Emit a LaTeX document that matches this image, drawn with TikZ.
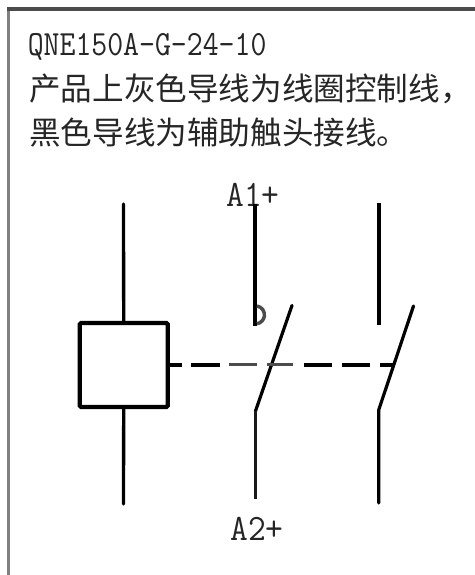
\documentclass[tikz,border=0pt]{standalone}
\usepackage{fontspec}
\newfontfamily\cjk{Noto Sans CJK SC}
\begin{document}
\begin{tikzpicture}[x=0.75pt,y=-0.75pt,
  wire/.style={line width=2.9pt,black},
  thinwire/.style={line width=2.5pt,black},
  slant/.style={line width=2.4pt,black,line cap=round,line join=round},
  dashblack/.style={line width=3pt,black},
  dashgray/.style={line width=2.2pt,black!70},
  latn/.style={inner sep=0pt,anchor=base west,text=black!85},
  han/.style={inner sep=0pt,anchor=base west,text=black!85}]
\useasboundingbox (0,0) rectangle (475,575);
\fill[white] (0,0) rectangle (475,575);
\newcommand{\txtsmall}[1]{\scalebox{1.03}[1.18]{\fontsize{22.5pt}{26pt}\ttfamily #1}}
\newcommand{\txtbig}[1]{\scalebox{1.15}[1.24]{\fontsize{22.5pt}{26pt}\ttfamily #1}}
\newcommand{\txthan}[1]{\fontsize{23.7pt}{28pt}\cjk #1}
\draw[line width=2.4pt,black!50] (8.3,575) -- (8.3,9);
\draw[line width=2.4pt,black!70] (7,9) -- (475,9);
\node[latn] (t1) at (27.5,55) {\txtsmall{QNE150A-G-24-10}};
\node[han] (t2) at (29,100) {\txthan{产品上灰色导线为线圈控制线，}};
\node[han] (t3) at (29,144) {\txthan{黑色导线为辅助触头接线。}};
\node[latn] (a1) at (226,206) {\txtbig{A1+}};
\node[latn] (a2) at (230,540) {\txtbig{A2+}};
\node[draw,line width=3.1pt,rounded corners=1pt,minimum width=66pt,minimum height=63pt,inner sep=0pt] (coil) at (123.7,365) {};
\coordinate (c1) at (123.5,204);
\coordinate (c2) at (123.5,504);
\draw[thinwire,line cap=round] (c1) -- (coil.north);
\draw[thinwire,line cap=round] (coil.south) -- (c2);
\coordinate (m1) at (255,204);
\coordinate (m2) at (255,325.5);
\coordinate (m3) at (292,305.5);
\coordinate (m4) at (255.5,411);
\coordinate (m5) at (255.5,499);
\draw[wire] (m1) -- (m2);
\draw[slant] (m3) -- (m4);
\draw[line width=2.4pt,black!90] (m4) -- (m5);
\draw[line width=2.6pt,black!70] (257,306) arc[start angle=-80,end angle=80,radius=9];
\coordinate (r1) at (379,203);
\coordinate (r2) at (379,325);
\coordinate (r3) at (413.5,306);
\coordinate (r4) at (378.7,410);
\coordinate (r5) at (378.7,503);
\draw[wire] (r1) -- (r2);
\draw[slant] (r3) -- (r4) -- (r5);
\coordinate (d1) at (182,365);
\coordinate (d2) at (191,365);
\coordinate (d3) at (220,365);
\coordinate (d4) at (229,364.5);
\coordinate (d5) at (257,364.5);
\coordinate (d6) at (267,364.5);
\coordinate (d7) at (293,364.5);
\coordinate (d8) at (304,365);
\coordinate (d9) at (332,365);
\coordinate (d10) at (342,365);
\coordinate (d11) at (370,365);
\coordinate (d12) at (380,365);
\coordinate (d13) at (395,365);
\draw[dashblack] (coil.east |- d1) -- (d1);
\draw[dashblack,line width=3.2pt] (d2) -- (d3);
\draw[dashgray] (d4) -- (d5);
\draw[dashgray] (d6) -- (d7);
\draw[dashblack,line width=3.2pt] (d8) -- (d9);
\draw[dashblack,line width=3.2pt] (d10) -- (d11);
\draw[dashblack,line width=2.6pt] (d12) -- (d13);
\end{tikzpicture}
\end{document}
